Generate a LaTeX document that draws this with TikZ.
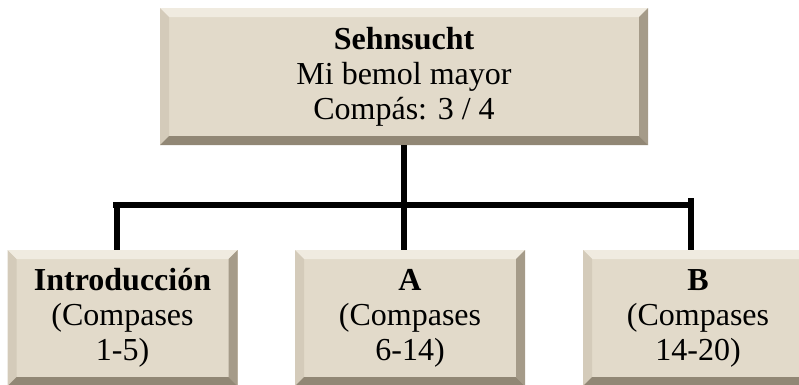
\documentclass[tikz,border=0pt]{standalone}
\usepackage{fontspec}
\setmainfont{Liberation Serif}
\definecolor{linen}{RGB}{226,218,202}
\definecolor{bevlight}{RGB}{240,235,224}
\definecolor{bevleft}{RGB}{212,203,186}
\definecolor{bevright}{RGB}{165,155,137}
\definecolor{bevbottom}{RGB}{145,135,117}
\begin{document}
\begin{tikzpicture}[x=1pt,y=-1pt,
  bevelbox/.style={rectangle, inner sep=0pt, fill=linen, align=center,
    font=\fontsize{32}{35}\selectfont,
    path picture={
      \coordinate (nw) at (path picture bounding box.north west);
      \coordinate (ne) at (path picture bounding box.north east);
      \coordinate (sw) at (path picture bounding box.south west);
      \coordinate (se) at (path picture bounding box.south east);
      \fill[bevlight] (nw) -- (ne) -- ([shift={(-9pt,-9pt)}]ne) -- ([shift={(9pt,-9pt)}]nw) -- cycle;
      \fill[bevleft] (nw) -- ([shift={(9pt,-9pt)}]nw) -- ([shift={(9pt,9pt)}]sw) -- (sw) -- cycle;
      \fill[bevright] (ne) -- ([shift={(-9pt,-9pt)}]ne) -- ([shift={(-9pt,9pt)}]se) -- (se) -- cycle;
      \fill[bevbottom] (sw) -- ([shift={(9pt,9pt)}]sw) -- ([shift={(-9pt,9pt)}]se) -- (se) -- cycle;
    }},
  conn/.style={line width=6pt, black}]
\useasboundingbox (0,0) rectangle (799,384);
\clip (0,0) rectangle (799,384);
\node[bevelbox, minimum width=488pt, minimum height=137pt] (top) at (404,76.5)
  {\textbf{Sehnsucht}\\Mi bemol mayor\\Compás: 3 / 4};
\node[bevelbox, minimum width=230pt, minimum height=136pt] (intro) at (122.5,318)
  {\textbf{Introducción}\\(Compases\\1-5)};
\node[bevelbox, minimum width=230pt, minimum height=136pt] (a) at (410,318)
  {\textbf{A}\\(Compases\\6-14)};
\node[bevelbox, minimum width=230pt, minimum height=136pt] (b) at (698,318)
  {\textbf{B}\\(Compases\\14-20)};
\coordinate (j) at (404,205);
\coordinate (hl) at (113,205);
\coordinate (hr) at (694,205);
\coordinate (bt) at (691,198);
\draw[conn] (top.south) -- (j);
\draw[conn, line cap=butt] (hl) -- (hr);
\draw[conn] ([xshift=-6pt]intro.north) -- ([xshift=-6pt]intro.north |- hl);
\draw[conn] (j) -- ([xshift=-6pt]a.north);
\draw[conn] (bt) -- (b.north -| bt);
\end{tikzpicture}
\end{document}
